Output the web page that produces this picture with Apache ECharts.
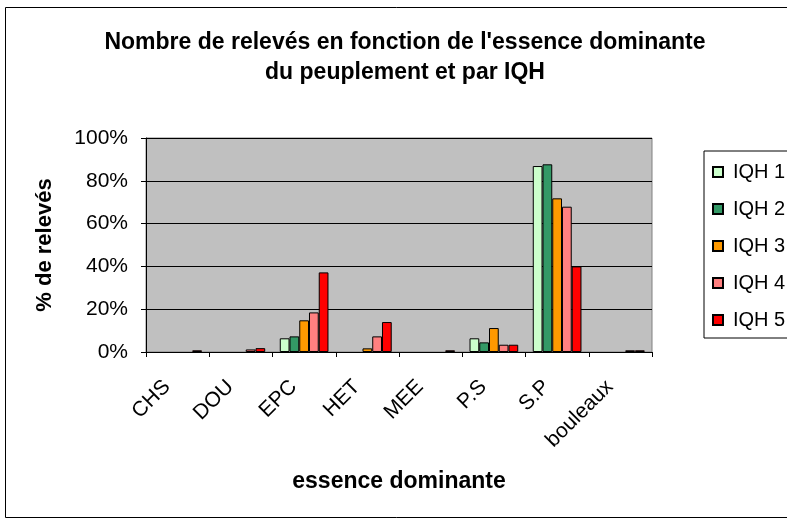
<!DOCTYPE html>
<html>
<head>
<meta charset="utf-8">
<script src="https://cdn.jsdelivr.net/npm/echarts@6/dist/echarts.min.js"></script>
<style>
  html, body { margin: 0; padding: 0; background: #fff; }
  #chart { width: 787px; height: 521px; }
</style>
</head>
<body>
<div id="chart"></div>
<script>
const categories = ['CHS', 'DOU', 'EPC', 'HET', 'MEE', 'P.S', 'S.P', 'bouleaux']
const seriesNames = ['IQH 1', 'IQH 2', 'IQH 3', 'IQH 4', 'IQH 5']
const seriesColors = ['#ccffcc', '#339966', '#ff9900', '#ff8080', '#ff0000']

// % of relevés per dominant species, one array per IQH class
const iqh1 = [0, 0, 6.4, 0, 0, 6.4, 86.9, 0]
const iqh2 = [0, 0, 7.3, 0, 0, 4.5, 87.7, 0]
const iqh3 = [0, 0, 14.8, 1.7, 0, 11.2, 71.8, 0]
const iqh4 = [0, 1.2, 18.5, 7.3, 0, 3.4, 67.9, 0.8]
const iqh5 = [0.8, 1.8, 37.2, 14, 0.8, 3.4, 40, 0.8]
const seriesValues = [iqh1, iqh2, iqh3, iqh4, iqh5]

const yTicks = [0, 20, 40, 60, 80, 100]

const font = 'Liberation Sans, Arial, sans-serif'

const chart = echarts.init(document.getElementById('chart'))

chart.setOption({
  backgroundColor: '#fff',
  animation: false,
  title: {
    text: "Nombre de relevés en fonction de l'essence dominante\ndu peuplement et par IQH",
    left: 400,
    textAlign: 'center',
    top: 23,
    textStyle: {
      fontFamily: font,
      fontWeight: 'bold',
      fontSize: 23,
      lineHeight: 30,
      color: '#000'
    }
  },
  graphic: [
    {
      type: 'rect',
      shape: { x: 5.5, y: 7.5, width: 800, height: 510 },
      style: { fill: 'none', stroke: '#000', lineWidth: 1 },
      silent: true
    }
  ],
  legend: {
    orient: 'vertical',
    left: 704,
    top: 151,
    padding: [11, 40, 8, 8],
    itemWidth: 10,
    itemHeight: 10,
    itemGap: 17,
    icon: 'rect',
    backgroundColor: '#fff',
    borderColor: '#000',
    borderWidth: 1,
    textStyle: { fontFamily: font, fontSize: 20, color: '#000', padding: [0, 0, 0, 5] }
  },
  grid: {
    left: 146,
    right: 135,
    top: 138,
    bottom: 169,
    show: true,
    backgroundColor: '#c0c0c0',
    borderColor: '#808080',
    borderWidth: 1
  },
  xAxis: {
    type: 'category',
    data: categories,
    name: 'essence dominante',
    nameLocation: 'middle',
    nameGap: 118,
    nameTextStyle: { fontFamily: font, fontWeight: 'bold', fontSize: 23, color: '#000' },
    axisLine: { lineStyle: { color: '#000', width: 1 } },
    axisTick: { show: true, length: 5, lineStyle: { color: '#000' } },
    axisLabel: {
      rotate: 45,
      margin: 21,
      padding: [0, 15, 0, 0],
      fontFamily: font,
      fontSize: 21,
      color: '#000'
    }
  },
  yAxis: {
    type: 'value',
    min: 0,
    max: 100,
    interval: 20,
    name: '% de relevés',
    nameLocation: 'middle',
    nameGap: 90,
    nameTextStyle: { fontFamily: font, fontWeight: 'bold', fontSize: 22, color: '#000' },
    axisLine: { show: true, lineStyle: { color: '#000', width: 1 } },
    axisTick: { show: true, length: 5, lineStyle: { color: '#000' } },
    axisLabel: {
      margin: 18,
      fontFamily: font,
      fontSize: 21,
      color: '#000',
      formatter: (v) => (yTicks.includes(v) ? v + '%' : '')
    },
    splitLine: { show: true, lineStyle: { color: '#000', width: 1 } }
  },
  series: seriesNames.map((name, i) => ({
    name,
    type: 'bar',
    barGap: 0,
    barCategoryGap: '23%',
    itemStyle: { color: seriesColors[i], borderColor: '#000', borderWidth: 1 },
    data: seriesValues[i].map((v) => (v === 0 ? '-' : v))
  }))
})
</script>
</body>
</html>
